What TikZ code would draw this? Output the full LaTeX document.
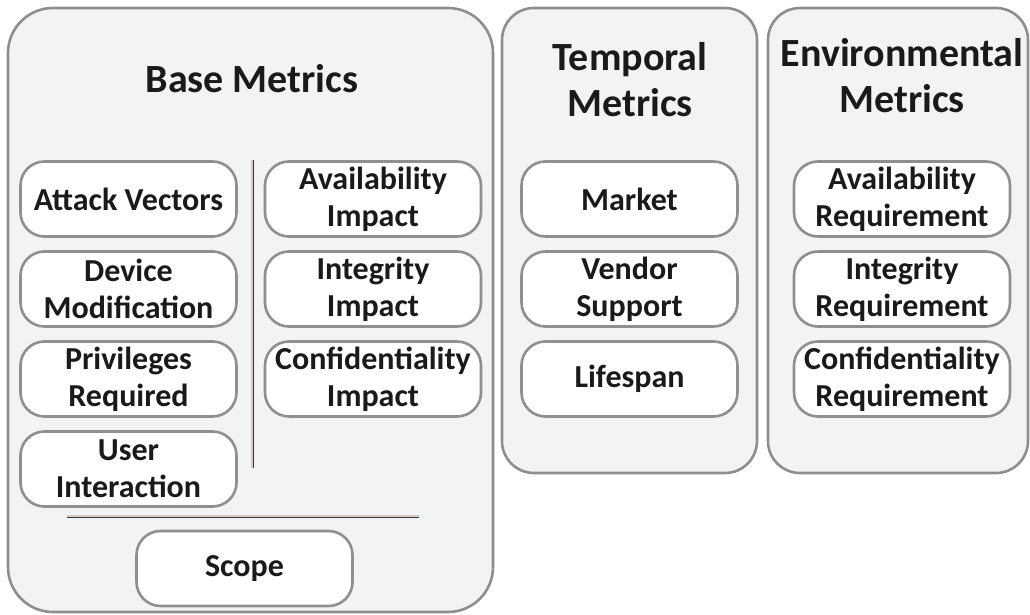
\documentclass[tikz,border=0pt]{standalone}
\usepackage{fontspec}
\setmainfont{Carlito}
\begin{document}
\begin{tikzpicture}[x=1pt,y=-1pt,
  panel/.style={draw=panelborder, fill=panelfill, line width=2.6pt, rounded corners=#1, inner sep=0pt},
  item/.style={draw=boxborder, fill=white, line width=2.6pt, rounded corners=24pt, minimum width=216pt, minimum height=75pt, inner sep=0pt, align=center, font=\fontsize{32}{37}\selectfont\bfseries, text=textcol},
  title/.style={align=center, font=\fontsize{40}{46}\selectfont\bfseries, text=textcol, inner sep=0pt},
  sepouter/.style={draw=sepcol, line width=3pt},
  sepinner/.style={draw=sepfill, line width=1.2pt}
]
\definecolor{panelborder}{HTML}{8E8E8E}
\definecolor{panelfill}{HTML}{F2F3F5}
\definecolor{boxborder}{HTML}{8F8F8F}
\definecolor{textcol}{HTML}{1A1A1A}
\definecolor{sepcol}{HTML}{383838}
\definecolor{sepfill}{HTML}{D9C9C9}
\useasboundingbox (0,0) rectangle (1030,615);

% panels
\node[panel=45pt, minimum width=485pt, minimum height=604pt] (base) at (250.5,310) {};
\node[panel=32pt, minimum width=255pt, minimum height=465pt] (temp) at (629.5,240.5) {};
\node[panel=32pt, minimum width=260pt, minimum height=465pt] (env) at (898,240.5) {};

% titles
\node[title, anchor=base] (baset) at (252,93) {Base Metrics};
\node[title, anchor=base] (tempt) at (630,117) {Temporal\\Metrics};
\node[title, anchor=base] (envt) at (902,113) {Environmental\\Metrics};

% base metrics items
\node[item] (av) at (128.5,199) {Attack Vectors};
\node[item] (dm) at (128.5,289) {Device\\Modification};
\node[item] (pr) at (128.5,379) {Privileges\\Required};
\node[item] (ui) at (128.5,469) {User\\Interaction};
\node[item] (ai) at (373,199) {Availability\\Impact};
\node[item] (ii) at (373,289) {Integrity\\Impact};
\node[item] (ci) at (373,379) {Confidentiality\\Impact};
\node[item] (sc) at (244.5,568.5) {Scope};

% separators
\coordinate (v1) at (252,160);
\coordinate (v2) at (252,468);
\coordinate (h1) at (67,516);
\coordinate (h2) at (419,516);
\draw[sepouter] (v1) -- (v2);
\draw[sepinner] (v1) -- (v2);
\draw[sepouter] (h1) -- (h2);
\draw[sepinner] (h1) -- (h2);

% temporal items
\node[item] (mk) at (629.5,199) {Market};
\node[item] (vs) at (629.5,289) {Vendor\\Support};
\node[item] (ls) at (629.5,379) {Lifespan};

% environmental items
\node[item] (ar) at (902,199) {Availability\\Requirement};
\node[item] (ir) at (902,289) {Integrity\\Requirement};
\node[item] (cr) at (902,379) {Confidentiality\\Requirement};
\end{tikzpicture}
\end{document}
